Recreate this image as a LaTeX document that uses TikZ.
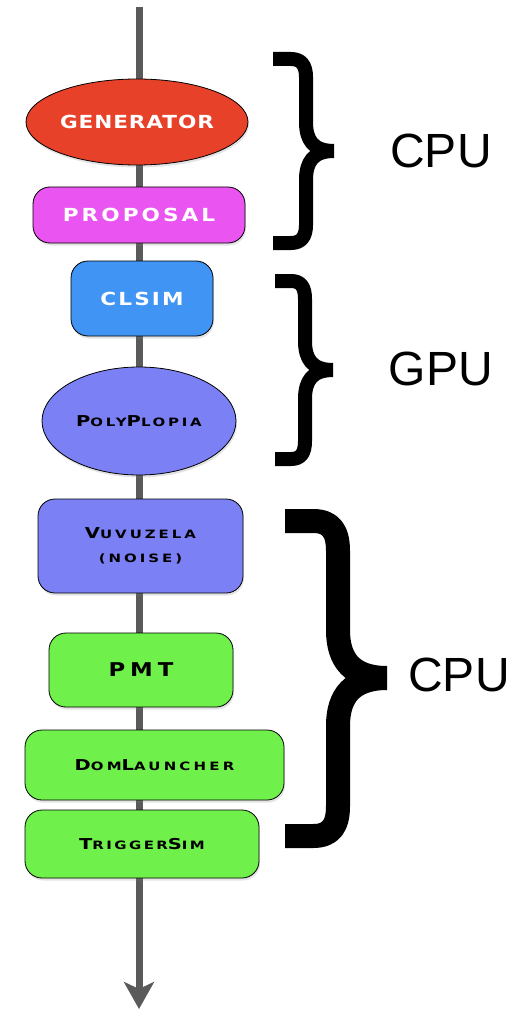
\documentclass[tikz,border=0pt]{standalone}
\usepackage{fontspec}
\usetikzlibrary{shapes.geometric,shadows,arrows.meta}
\newfontfamily\cpf[FakeStretch=1.2]{DejaVu Sans}
\newfontfamily\scf[FakeStretch=1.3]{DejaVu Sans}
\newfontfamily\hvf{Liberation Sans}
\newcommand\BigL[1]{{\fontsize{15}{15}\selectfont #1}}
\definecolor{genred}{HTML}{E8412A}
\definecolor{propmag}{HTML}{EA55F2}
\definecolor{clblue}{HTML}{3F94F4}
\definecolor{polyblue}{HTML}{7B80F4}
\definecolor{pmtgreen}{HTML}{6FF04B}
\definecolor{axgray}{HTML}{5A5A5A}
\tikzset{
  boxnode/.style={rectangle, draw=black, line width=0.8pt, rounded corners=17pt, inner sep=0pt,
    drop shadow={opacity=0.22, shadow xshift=1pt, shadow yshift=-2.5pt}},
  ovalnode/.style={ellipse, draw=black, line width=0.8pt, inner sep=0pt,
    drop shadow={opacity=0.22, shadow xshift=1pt, shadow yshift=-2.5pt}},
  lightlbl/.style={text=white, font=\cpf\bfseries\fontsize{18}{18}\selectfont\addfontfeature{LetterSpace=#1}},
  darklbl/.style={text=black, align=center, font=\scf\bfseries\fontsize{11.5}{24}\selectfont\addfontfeature{LetterSpace=#1}},
  axisline/.style={draw=axgray, line width=7pt, -{Stealth[length=27pt,width=30pt,inset=7pt]}},
  bracepath/.style={draw=black, line cap=butt, line join=round},
  unitlbl/.style={font=\hvf\fontsize{48}{48}\selectfont, text=black, inner sep=0pt}
}
\begin{document}
\begin{tikzpicture}[x=1pt,y=-1pt]
\useasboundingbox (0,0) rectangle (530,1011);
% axis
\coordinate (top) at (139,7);
\coordinate (bot) at (139,1009);
\draw[axisline] (top) -- (bot);
% nodes
\node[ovalnode, fill=genred, minimum width=222pt, minimum height=86pt, lightlbl=5] (gen) at (137,122) {GENERATOR};
\node[boxnode, fill=propmag, minimum width=212pt, minimum height=56pt, lightlbl=17] (prop) at (139,215) {PROPOSAL};
\node[boxnode, fill=clblue, minimum width=142pt, minimum height=75pt, lightlbl=12] (clsim) at (142,298.5) {CLSIM};
\node[ovalnode, fill=polyblue, minimum width=194pt, minimum height=108pt, darklbl=24] (poly) at (139,421) {\BigL{P}OLY\BigL{P}LOPIA};
\node[boxnode, fill=polyblue, minimum width=205pt, minimum height=94pt, darklbl=26] (vuv) at (140.5,546) {\BigL{V}UVUZELA\\(NOISE)};
\node[boxnode, fill=pmtgreen, minimum width=184pt, minimum height=74pt, text=black, font=\cpf\bfseries\fontsize{19}{19}\selectfont\addfontfeature{LetterSpace=26}] (pmt) at (141,670) {PMT};
\node[boxnode, fill=pmtgreen, minimum width=259pt, minimum height=70pt, darklbl=28] (dom) at (154.5,765) {\BigL{D}OM\BigL{L}AUNCHER};
\node[boxnode, fill=pmtgreen, minimum width=234pt, minimum height=68pt, darklbl=21] (trig) at (142,844) {\BigL{T}RIGGER\BigL{S}IM};
% braces
\draw[bracepath, line width=14pt]
  (273,59) -- (291,59) .. controls (301,59) and (306,65) .. (306,77) -- (306,122)
  .. controls (306,140) and (313,151) .. (334,151);
\draw[bracepath, line width=14pt]
  (334,151) .. controls (313,151) and (306,162) .. (306,180) -- (306,225)
  .. controls (306,237) and (301,243) .. (291,243) -- (273,243);
\draw[bracepath, line width=14pt]
  (275,281) -- (291,281) .. controls (301,281) and (305,287) .. (305,299) -- (305,341)
  .. controls (305,359) and (312,370) .. (333,370);
\draw[bracepath, line width=14pt]
  (333,370) .. controls (312,370) and (305,381) .. (305,399) -- (305,441)
  .. controls (305,453) and (301,459) .. (291,459) -- (275,459);
\draw[bracepath, line width=24pt]
  (285,521) -- (313,521) .. controls (331,521) and (338,531) .. (338,551) -- (338,630)
  .. controls (338,660) and (352,678) .. (387,678);
\draw[bracepath, line width=24pt]
  (387,678) .. controls (352,678) and (338,696) .. (338,726) -- (338,806)
  .. controls (338,826) and (331,836) .. (313,836) -- (285,836);
% labels
\node[unitlbl] (cpu1) at (441,151) {CPU};
\node[unitlbl] (gpu) at (441,369) {GPU};
\node[unitlbl] (cpu2) at (459,675) {CPU};
\end{tikzpicture}
\end{document}
